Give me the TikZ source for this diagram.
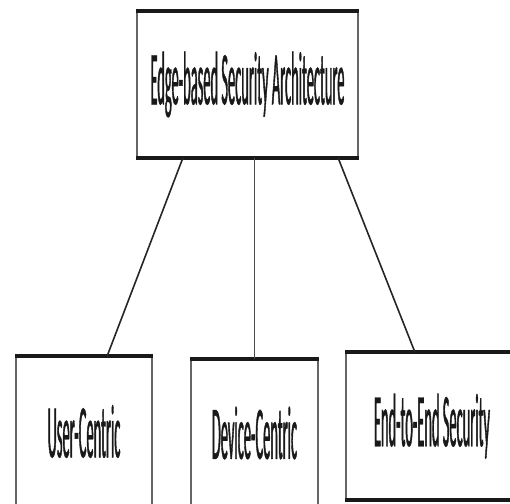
\documentclass[tikz,border=0pt]{standalone}
\usepackage{fontspec}
\newfontfamily\narrowfont[FakeStretch=0.19,FakeBold=0.5]{Carlito}
\usetikzlibrary{positioning}

\begin{document}
\begin{tikzpicture}
	[x=1pt,y=-1pt,
		level box/.style={draw=black!60, line width=1.2pt, inner sep=0pt,
			font=\narrowfont\fontsize{76}{76}\selectfont, text=black!90},
		rule/.style={line width=4pt, black!90},
		link/.style={line width=1.6pt, black!85}]

	\clip (0,0) rectangle (510,503);
	\fill[white] (0,0) rectangle (510,503);

	\node[level box, minimum width=221pt, minimum height=145pt] (top) at (247.5,84.5) {Edge-based Security Architecture};

	\node[level box, minimum width=136pt, minimum height=149pt] (user) at (84,431.5) {User-Centric};
	\node[level box, minimum width=127pt, minimum height=146pt] (device) at (254.5,433) {Device-Centric};
	\node[level box, minimum width=172pt, minimum height=146pt] (e2e) at (432,426) {End-to-End Security};

	% thick rules on top and bottom of every box
	\foreach \n in {top,user,device,e2e}
		\draw[rule] (\n.north west) -- (\n.north east)
			(\n.south west) -- (\n.south east);

	\draw[link] ([xshift=-64.5pt]top.south) -- ([xshift=23pt]user.north);
	\draw[link, line width=1pt, black!70] (device.north |- top.south) -- (device.north);
	\draw[link] ([xshift=90.5pt]top.south) -- ([xshift=-17pt]e2e.north);

\end{tikzpicture}
\end{document}
